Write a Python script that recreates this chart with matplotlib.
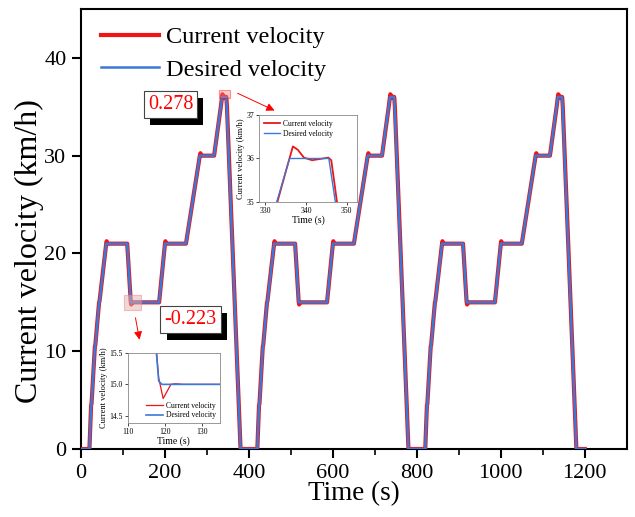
import matplotlib
matplotlib.use("Agg")
import matplotlib.pyplot as plt
from matplotlib.patches import Rectangle
from matplotlib import patheffects

plt.rcParams['font.family'] = ['Liberation Serif', 'DejaVu Serif']

# desired speed profile (three identical drive cycles)
t_desired = [
    0, 20, 24, 25, 33, 34, 43, 44, 60, 110, 118.4, 119.3, 186, 200, 250, 283, 317, 336, 345.6, 347.2, 380,
    400, 420, 424, 425, 433, 434, 443, 444, 460, 510, 518.4, 519.3, 586, 600, 650, 683, 717, 736, 745.6, 747.2, 780,
    800, 820, 824, 825, 833, 834, 843, 844, 860, 910, 918.4, 919.3, 986, 1000, 1050, 1083, 1117, 1136, 1145.6, 1147.2, 1180,
    1200]
v_desired = [
    0, 0, 4.5, 4.5, 10.5, 10.5, 15, 15, 21, 21, 15.05, 15, 15, 21, 21, 30, 30, 36, 36, 35, 0,
    0, 0, 4.5, 4.5, 10.5, 10.5, 15, 15, 21, 21, 15.05, 15, 15, 21, 21, 30, 30, 36, 36, 35, 0,
    0, 0, 4.5, 4.5, 10.5, 10.5, 15, 15, 21, 21, 15.05, 15, 15, 21, 21, 30, 30, 36, 36, 35, 0,
    0]

# measured vehicle speed
t_current = [
    0, 20, 24, 25, 33, 34, 43, 44, 60, 61, 63, 110, 118.4, 119.6, 121.7, 123, 125, 186, 200, 201, 203,
    250, 283, 284.5, 286.5, 317, 333, 335.5, 336.8, 338, 339.5, 341.5, 343.5, 345.5, 346.2, 347.6, 380,
    400, 420, 424, 425, 433, 434, 443, 444, 460, 461, 463, 510, 518.4, 519.6, 521.7, 523, 525, 586, 600, 601, 603,
    650, 683, 684.5, 686.5, 717, 733, 735.5, 736.8, 738, 739.5, 741.5, 743.5, 745.5, 746.2, 747.6, 780,
    800, 820, 824, 825, 833, 834, 843, 844, 860, 861, 863, 910, 918.4, 919.6, 921.7, 923, 925, 986, 1000, 1001, 1003,
    1050, 1083, 1084.5, 1086.5, 1117, 1133, 1135.5, 1136.8, 1138, 1139.5, 1141.5, 1143.5, 1145.5, 1146.2, 1147.6, 1180,
    1200]
v_current = [
    0, 0, 4.5, 4.6, 10.5, 10.6, 15, 15.1, 21, 21.25, 21, 21, 15.1, 14.777, 15, 15.01, 15, 15, 21, 21.25, 21,
    21, 30, 30.25, 30, 30, 35, 35.85, 36.278, 36.2, 36.02, 35.96, 35.99, 36.02, 35.96, 35, 0,
    0, 0, 4.5, 4.6, 10.5, 10.6, 15, 15.1, 21, 21.25, 21, 21, 15.1, 14.777, 15, 15.01, 15, 15, 21, 21.25, 21,
    21, 30, 30.25, 30, 30, 35, 35.85, 36.278, 36.2, 36.02, 35.96, 35.99, 36.02, 35.96, 35, 0,
    0, 0, 4.5, 4.6, 10.5, 10.6, 15, 15.1, 21, 21.25, 21, 21, 15.1, 14.777, 15, 15.01, 15, 15, 21, 21.25, 21,
    21, 30, 30.25, 30, 30, 35, 35.85, 36.278, 36.2, 36.02, 35.96, 35.99, 36.02, 35.96, 35, 0,
    0]

peak_error = 0.278
dip_error = -0.223

RED = '#f01414'
BLUE = '#3b78d8'

fig = plt.figure(figsize=(6.35, 5.17), dpi=100)
ax = fig.add_axes([0.1276, 0.1315, 0.8594, 0.8511])

ax.plot(t_current, v_current, color=RED, lw=3.0, label='Current velocity', zorder=3)
ax.plot(t_desired, v_desired, color=BLUE, lw=1.8, label='Desired velocity', zorder=4)

ax.set_xlim(0, 1300)
ax.set_ylim(0, 45)
ax.set_xticks([0, 200, 400, 600, 800, 1000, 1200])
ax.set_xticks(range(100, 1300, 200), minor=True)
ax.set_yticks([0, 10, 20, 30, 40])
ax.tick_params(axis='both', which='major', direction='out', length=6.5, width=1.5,
               labelsize=16, pad=4)
ax.tick_params(axis='both', which='minor', direction='out', length=4, width=1.2)
for s in ax.spines.values():
    s.set_linewidth(1.5)
ax.set_xlabel('Time (s)', fontsize=19.5, labelpad=-1)
ax.set_ylabel('Current velocity (km/h)', fontsize=23)
ax.yaxis.set_label_coords(-0.068, 0.45)

ax.legend(loc='upper left', frameon=False, fontsize=17.5, handlelength=2.4,
          handletextpad=0.3, borderaxespad=0.3, labelspacing=0.45,
          bbox_to_anchor=(0.005, 1.0))

# highlighted regions
ax.add_patch(Rectangle((328, 35.9), 26, 0.85, facecolor='lightcoral', alpha=0.4,
                       edgecolor='red', lw=0.8, zorder=5))
ax.add_patch(Rectangle((103, 14.25), 41, 1.55, facecolor='#e0b0b0', alpha=0.5,
                       edgecolor='#f08080', lw=0.8, zorder=5))

# arrows towards the zoomed views
ax.annotate('', xy=(467, 34.5), xytext=(367, 36.5),
            arrowprops=dict(arrowstyle='-|>', color='red', lw=0.7, mutation_scale=12))
ax.annotate('', xy=(140.5, 10.9), xytext=(128.5, 13.7),
            arrowprops=dict(arrowstyle='-|>', color='red', lw=0.7, mutation_scale=12))

# error labels with drop shadow
def shadow_label(x, y, txt):
    t = ax.text(x, y, txt, fontsize=14.5, color='red', ha='center', va='center', zorder=7,
                bbox=dict(boxstyle='square,pad=0.2', fc='white', ec='#444444', lw=0.8))
    t.get_bbox_patch().set_path_effects([
        patheffects.SimplePatchShadow(offset=(4.5, -4.5), shadow_rgbFace='black', alpha=1.0),
        patheffects.Normal()])

shadow_label(213, 35.2, f'{peak_error:.3f}')
shadow_label(261, 13.2, f'{dip_error:.3f}')

# zoom on the peak
ax1 = fig.add_axes([0.4079, 0.6093, 0.1543, 0.1683])
ax1.plot(t_current, v_current, color=RED, lw=1.3, label='Current velocity')
ax1.plot(t_desired, v_desired, color=BLUE, lw=1.0, label='Desired velocity')
ax1.set_xlim(328.5, 352.5)
ax1.set_ylim(35, 37)
ax1.set_xticks([330, 340, 350])
ax1.set_yticks([35, 36, 37])
ax1.tick_params(labelsize=5.5, length=2, width=0.5, pad=1.5)
for s in ax1.spines.values():
    s.set_linewidth(0.6)
    s.set_color('#888888')
ax1.set_xlabel('Time (s)', fontsize=7, labelpad=0.5)
ax1.set_ylabel('Current velocity (km/h)', fontsize=6, labelpad=1)
ax1.legend(loc='upper left', frameon=False, fontsize=5.5, handlelength=2.2,
           handletextpad=0.4, borderaxespad=0.2, labelspacing=0.3)

# zoom on the dip
ax2 = fig.add_axes([0.2011, 0.1818, 0.1454, 0.136])
ax2.plot(t_current, v_current, color=RED, lw=0.9, label='Current velocity')
ax2.plot(t_desired, v_desired, color=BLUE, lw=1.2, label='Desired velocity')
ax2.set_xlim(110, 135)
ax2.set_ylim(14.39, 15.5)
ax2.set_xticks([110, 120, 130])
ax2.set_yticks([14.5, 15.0, 15.5])
ax2.set_yticklabels(['14.5', '15.0', '15.5'])
ax2.tick_params(labelsize=5.5, length=2, width=0.5, pad=1.5)
for s in ax2.spines.values():
    s.set_linewidth(0.6)
    s.set_color('#888888')
ax2.set_xlabel('Time (s)', fontsize=7, labelpad=0.5)
ax2.set_ylabel('Current velocity (km/h)', fontsize=6, labelpad=1)
ax2.legend(loc='lower right', frameon=False, fontsize=5.5, handlelength=2.2,
           handletextpad=0.4, borderaxespad=0.1, labelspacing=0.2)

fig.savefig('out.png', dpi=100)
